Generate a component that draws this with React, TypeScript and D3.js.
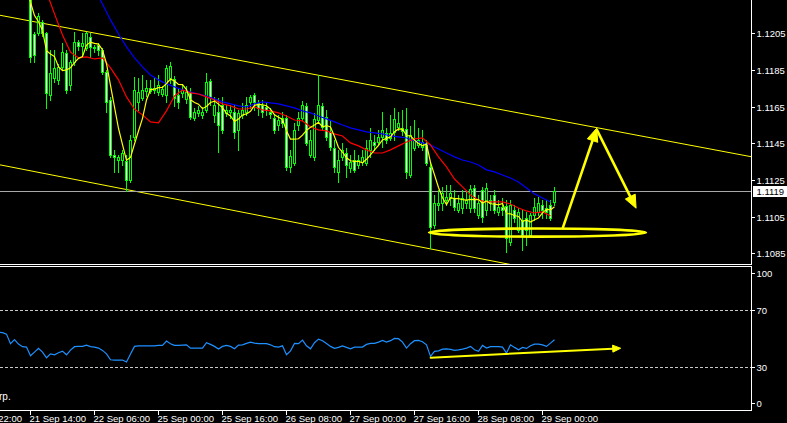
import React from "react";
import * as d3 from "d3";

const W = 787;
const H = 423;

// ---- OHLC data (H1 bars), first entry is bar -7 ----
const FIRST_BAR = -7;
const opens = [
  1.12370, 1.12340, 1.12320, 1.12330, 1.12300, 1.12310, 1.12290,
  1.12287, 1.12046, 1.12052, 1.12112, 1.12052, 1.11714, 1.11807, 1.11796, 1.11867, 1.11943,
  1.11769, 1.11894, 1.12003, 1.11981, 1.11970, 1.12030, 1.11976, 1.11986, 1.11959, 1.11839,
  1.11686, 1.11387, 1.11359, 1.11359, 1.11354, 1.11250, 1.11485, 1.11676, 1.11698, 1.11736,
  1.11736, 1.11741, 1.11730, 1.11719, 1.11714, 1.11807, 1.11801, 1.11714, 1.11725, 1.11692,
  1.11730, 1.11588, 1.11616, 1.11605, 1.11632, 1.11790, 1.11605, 1.11621, 1.11659, 1.11616,
  1.11621, 1.11621, 1.11523, 1.11605, 1.11621, 1.11676, 1.11714, 1.11670, 1.11659, 1.11648,
  1.11621, 1.11588, 1.11550, 1.11588, 1.11588, 1.11321, 1.11343, 1.11550, 1.11588, 1.11654,
  1.11387, 1.11376, 1.11577, 1.11654, 1.11594, 1.11512, 1.11425, 1.11294, 1.11376, 1.11397,
  1.11316, 1.11359, 1.11332, 1.11348, 1.11343, 1.11414, 1.11457, 1.11457, 1.11485, 1.11507,
  1.11479, 1.11512, 1.11539, 1.11534, 1.11528, 1.11277, 1.11425, 1.11441, 1.11430, 1.11452,
  1.11321, 1.11005, 1.11114, 1.11125, 1.11141, 1.11152, 1.11152, 1.11087, 1.11097, 1.11125,
  1.11097, 1.11206, 1.11059, 1.11196, 1.11087, 1.11141, 1.11168, 1.11076, 1.11103, 1.11108,
  1.10912, 1.11087, 1.10977, 1.11032, 1.11043, 1.10950, 1.11059, 1.11076, 1.11114, 1.11097,
  1.11114, 1.11130,
];
const highs = [
  1.12410, 1.12380, 1.12360, 1.12350, 1.12340, 1.12330, 1.12320,
  1.12341, 1.12057, 1.12161, 1.12123, 1.12057, 1.11959, 1.11959, 1.11883, 1.11997, 1.11959,
  1.11905, 1.12057, 1.12014, 1.12052, 1.12057, 1.12052, 1.11986, 1.11997, 1.11970, 1.11850,
  1.11703, 1.11414, 1.11387, 1.11414, 1.11387, 1.11496, 1.11812, 1.11807, 1.11823, 1.11796,
  1.11796, 1.11807, 1.11823, 1.11763, 1.11878, 1.11894, 1.11817, 1.11752, 1.11774, 1.11763,
  1.11752, 1.11643, 1.11654, 1.11648, 1.11834, 1.11801, 1.11703, 1.11698, 1.11703, 1.11659,
  1.11659, 1.11659, 1.11632, 1.11670, 1.11703, 1.11714, 1.11725, 1.11686, 1.11686, 1.11676,
  1.11643, 1.11605, 1.11605, 1.11621, 1.11605, 1.11414, 1.11561, 1.11621, 1.11681, 1.11670,
  1.11523, 1.11616, 1.11823, 1.11670, 1.11632, 1.11577, 1.11468, 1.11414, 1.11452, 1.11425,
  1.11387, 1.11414, 1.11387, 1.11414, 1.11468, 1.11534, 1.11496, 1.11523, 1.11621, 1.11534,
  1.11605, 1.11643, 1.11621, 1.11632, 1.11643, 1.11545, 1.11577, 1.11534, 1.11523, 1.11468,
  1.11343, 1.11168, 1.11196, 1.11212, 1.11223, 1.11223, 1.11196, 1.11168, 1.11196, 1.11196,
  1.11223, 1.11223, 1.11168, 1.11212, 1.11234, 1.11168, 1.11196, 1.11141, 1.11152, 1.11141,
  1.11141, 1.11114, 1.11097, 1.11087, 1.11076, 1.11070, 1.11152, 1.11157, 1.11141, 1.11141,
  1.11141, 1.11212,
];
const lows = [
  1.12320, 1.12300, 1.12290, 1.12280, 1.12270, 1.12260, 1.12250,
  1.11894, 1.11894, 1.12041, 1.12035, 1.11643, 1.11686, 1.11785, 1.11774, 1.11850, 1.11725,
  1.11741, 1.11878, 1.11959, 1.11921, 1.11959, 1.11921, 1.11948, 1.11932, 1.11828, 1.11621,
  1.11376, 1.11294, 1.11294, 1.11332, 1.11190, 1.11239, 1.11468, 1.11632, 1.11686, 1.11708,
  1.11725, 1.11725, 1.11714, 1.11708, 1.11676, 1.11780, 1.11654, 1.11643, 1.11703, 1.11670,
  1.11583, 1.11577, 1.11599, 1.11588, 1.11621, 1.11659, 1.11567, 1.11403, 1.11507, 1.11599,
  1.11588, 1.11479, 1.11414, 1.11588, 1.11605, 1.11643, 1.11632, 1.11605, 1.11594, 1.11605,
  1.11588, 1.11507, 1.11523, 1.11539, 1.11305, 1.11294, 1.11332, 1.11523, 1.11577, 1.11441,
  1.11376, 1.11359, 1.11567, 1.11523, 1.11468, 1.11414, 1.11294, 1.11239, 1.11359, 1.11266,
  1.11294, 1.11294, 1.11316, 1.11332, 1.11332, 1.11376, 1.11414, 1.11441, 1.11430, 1.11452,
  1.11468, 1.11468, 1.11523, 1.11496, 1.11261, 1.11266, 1.11414, 1.11430, 1.11414, 1.11332,
  1.10879, 1.10988, 1.11087, 1.11087, 1.11114, 1.11114, 1.11087, 1.11076, 1.11070, 1.11097,
  1.11076, 1.11076, 1.11043, 1.11021, 1.11059, 1.11087, 1.11070, 1.11059, 1.11059, 1.10857,
  1.10896, 1.11021, 1.10966, 1.10868, 1.10896, 1.10939, 1.11032, 1.11059, 1.11043, 1.11043,
  1.11032, 1.11114,
];
const closes = [
  1.12340, 1.12320, 1.12330, 1.12300, 1.12310, 1.12290, 1.12280,
  1.11921, 1.11932, 1.12144, 1.12052, 1.11725, 1.11834, 1.11861, 1.11867, 1.11948, 1.11741,
  1.11894, 1.12003, 1.11981, 1.11997, 1.12052, 1.11976, 1.11970, 1.11959, 1.11839, 1.11676,
  1.11387, 1.11376, 1.11376, 1.11397, 1.11250, 1.11468, 1.11741, 1.11730, 1.11741, 1.11752,
  1.11752, 1.11752, 1.11769, 1.11747, 1.11861, 1.11872, 1.11698, 1.11676, 1.11741, 1.11730,
  1.11594, 1.11621, 1.11632, 1.11621, 1.11785, 1.11703, 1.11659, 1.11550, 1.11523, 1.11632,
  1.11632, 1.11512, 1.11616, 1.11632, 1.11659, 1.11703, 1.11676, 1.11643, 1.11621, 1.11632,
  1.11610, 1.11523, 1.11577, 1.11561, 1.11321, 1.11381, 1.11523, 1.11588, 1.11659, 1.11452,
  1.11468, 1.11583, 1.11659, 1.11539, 1.11485, 1.11430, 1.11321, 1.11359, 1.11414, 1.11332,
  1.11348, 1.11305, 1.11359, 1.11376, 1.11425, 1.11468, 1.11441, 1.11485, 1.11523, 1.11468,
  1.11507, 1.11583, 1.11561, 1.11518, 1.11294, 1.11496, 1.11468, 1.11468, 1.11457, 1.11343,
  1.10994, 1.11125, 1.11125, 1.11179, 1.11157, 1.11179, 1.11103, 1.11125, 1.11152, 1.11141,
  1.11201, 1.11097, 1.11125, 1.11048, 1.11206, 1.11125, 1.11087, 1.11103, 1.11087, 1.10934,
  1.11114, 1.11043, 1.11076, 1.10950, 1.10977, 1.11059, 1.11103, 1.11125, 1.11087, 1.11076,
  1.11043, 1.11190,
];

// ---- moving averages (one value every 2 bars) ----
const RED_FIRST_BAR = 4;
const redMA = [
  1.12276, 1.12156, 1.12041, 1.11948, 1.11916, 1.11921, 1.11910, 1.11916, 1.11861, 1.11796,
  1.11703, 1.11637, 1.11605, 1.11567, 1.11561, 1.11627, 1.11708, 1.11741, 1.11725, 1.11719,
  1.11703, 1.11686, 1.11665, 1.11654, 1.11637, 1.11637, 1.11648, 1.11632, 1.11627, 1.11616,
  1.11599, 1.11577, 1.11572, 1.11539, 1.11523, 1.11518, 1.11501, 1.11490, 1.11452, 1.11436,
  1.11414, 1.11397, 1.11397, 1.11414, 1.11436, 1.11457, 1.11474, 1.11479, 1.11441, 1.11376,
  1.11321, 1.11255, 1.11212, 1.11168, 1.11141, 1.11130, 1.11130, 1.11130, 1.11119, 1.11097,
  1.11081, 1.11070, 1.11076, 1.11054,
];
const BLUE_FIRST_BAR = 16;
const blueMA = [
  1.12287, 1.12210, 1.12123, 1.12046, 1.11976, 1.11916, 1.11867, 1.11823, 1.11796, 1.11774,
  1.11758, 1.11741, 1.11730, 1.11719, 1.11708, 1.11692, 1.11676, 1.11665, 1.11654, 1.11648,
  1.11665, 1.11676, 1.11670, 1.11665, 1.11654, 1.11643, 1.11627, 1.11616, 1.11599, 1.11583,
  1.11567, 1.11550, 1.11534, 1.11523, 1.11512, 1.11507, 1.11501, 1.11490, 1.11485, 1.11479,
  1.11463, 1.11452, 1.11441, 1.11419, 1.11397, 1.11376, 1.11359, 1.11348, 1.11332, 1.11305,
  1.11294, 1.11277, 1.11261, 1.11239, 1.11206, 1.11174, 1.11152, 1.11130,
];
const FAST_PERIOD = 5;

// ---- oscillator in the sub-window, first entry is bar -8 ----
const IND_FIRST_BAR = -8;
const indicator = [
  54.5, 54.1, 53.1, 46.4, 49.2, 46.1, 44.3, 44.0,
  37.9, 40.5, 43.1, 40.5, 36.5, 39.3, 38.6, 40.0, 41.2, 38.6,
  41.9, 44.3, 44.5, 44.5, 45.4, 44.3, 44.0, 43.3, 41.7, 39.3,
  35.1, 34.9, 34.9, 34.9, 33.5, 39.1, 44.5, 44.9, 44.9, 44.9,
  44.9, 44.9, 45.2, 45.2, 48.2, 46.4, 45.2, 45.2, 45.4, 45.6,
  43.3, 43.3, 43.3, 43.3, 47.1, 45.9, 44.5, 42.6, 44.5, 45.2,
  44.5, 42.8, 45.4, 45.6, 46.6, 47.5, 46.8, 46.4, 46.4, 46.4,
  45.6, 44.3, 44.0, 44.9, 38.6, 41.4, 46.6, 46.4, 48.9, 44.9,
  42.8, 47.1, 49.6, 48.5, 46.6, 44.5, 43.1, 43.8, 44.9, 43.8,
  42.8, 44.0, 44.0, 44.0, 45.9, 46.6, 46.6, 47.5, 48.7, 47.5,
  48.5, 50.1, 49.9, 47.5, 43.3, 46.4, 48.5, 48.7, 47.8, 45.6,
  37.5, 41.0, 41.4, 42.6, 42.8, 42.4, 41.7, 42.1, 42.6, 43.3,
  44.5, 42.1, 41.0, 45.2, 43.3, 44.3, 44.3, 44.3, 44.0, 39.8,
  45.6, 43.8, 42.1, 43.8, 43.1, 44.9, 46.1, 46.1, 45.6, 44.5,
  46.8, 49.2,
];
const indLevels = [70, 30];
const indAxisValues = [100, 70, 30, 0];

// ---- axes ----
const priceTicks = [1.1205, 1.1185, 1.1165, 1.1145, 1.1125, 1.1105, 1.1085];
const bidPrice = 1.1119;
const timeTickBars = [-16, 0, 16, 32, 48, 64, 80, 96, 112, 128];
const timeTickLabels = [
  "20 Sep 22:00", "21 Sep 14:00", "22 Sep 06:00", "25 Sep 00:00", "25 Sep 16:00",
  "26 Sep 08:00", "27 Sep 00:00", "27 Sep 16:00", "28 Sep 08:00", "29 Sep 00:00",
];

// ---- drawn objects (bar index, price) ----
const upperTrend = [[0, 1.12117], [120, 1.11624]];
const lowerTrend = [[0, 1.11300], [100, 1.10874]];
const ellipseObj = { bar: 126.75, price: 1.10963, rBars: 27.1, rPrice: 0.00022 };
const arrowUp = [[133.1, 1.1099], [141.55, 1.11532]];
const arrowDown = [[141.6, 1.11523], [151.4, 1.11096]];
const indArrow = [[100.05, 36.6], [147.55, 43.2]];

const FONT = "'Liberation Sans', Arial, sans-serif";

// layout
const PLOT_R = 751;
const MAIN_B = 264;
const SUB_T = 266;
const SUB_B = 410;

const x = d3.scaleLinear().domain([0, 1]).range([30.5, 34.5]);
const y = d3.scaleLinear().domain([1.1085, 1.1205]).range([253.3, 33.3]);
const yi = d3.scaleLinear().domain([0, 100]).range([409.8, 267.3]);

function arrowHead(x1: number, y1: number, x2: number, y2: number, len: number, hw: number) {
  const dx = x2 - x1, dy = y2 - y1;
  const d = Math.hypot(dx, dy);
  const ux = dx / d, uy = dy / d;
  const bx = x2 - ux * len, by = y2 - uy * len;
  const nx = -uy, ny = ux;
  return {
    base: [bx, by],
    pts: `${x2},${y2} ${bx + nx * hw},${by + ny * hw} ${bx - nx * hw},${by - ny * hw}`,
  };
}

function Arrow({ p, ys, w, len, hw }: any) {
  const x1 = x(p[0][0]), y1 = ys(p[0][1]), x2 = x(p[1][0]), y2 = ys(p[1][1]);
  const h = arrowHead(x1, y1, x2, y2, len, hw);
  return (
    <g>
      <line x1={x1} y1={y1} x2={h.base[0]} y2={h.base[1]} stroke="#FFFF00" strokeWidth={w} strokeLinecap="round" />
      <polygon points={h.pts} fill="#FFFF00" stroke="#FFFF00" strokeWidth={1} strokeLinejoin="round" />
    </g>
  );
}

function trendPath(t: number[][]) {
  const slope = (t[1][1] - t[0][1]) / (t[1][0] - t[0][0]);
  const b0 = x.invert(0), b1 = x.invert(PLOT_R);
  const p0 = t[0][1] + slope * (b0 - t[0][0]);
  const p1 = t[0][1] + slope * (b1 - t[0][0]);
  return `M0,${y(p0)} L${PLOT_R},${y(p1)}`;
}

export default function App() {
  const bars = opens.map((o, i) => ({
    k: FIRST_BAR + i, o, h: highs[i], l: lows[i], c: closes[i],
  }));

  const fast: [number, number][] = [];
  for (let i = FAST_PERIOD - 1; i < closes.length; i++) {
    const m = d3.mean(closes.slice(i - FAST_PERIOD + 1, i + 1)) as number;
    fast.push([x(FIRST_BAR + i), y(m)]);
  }
  const line = d3.line();
  const redPts: [number, number][] = redMA.map((v, i) => [x(RED_FIRST_BAR + 2 * i), y(v)]);
  const bluePts: [number, number][] = blueMA.map((v, i) => [x(BLUE_FIRST_BAR + 2 * i), y(v)]);
  const indPts: [number, number][] = indicator.map((v, i) => [x(IND_FIRST_BAR + i), yi(v)]);

  const ex = x(ellipseObj.bar);
  const ey = y(ellipseObj.price);
  const erx = x(ellipseObj.bar + ellipseObj.rBars) - ex;
  const ery = y(ellipseObj.price - ellipseObj.rPrice) - ey;

  const bidY = Math.round(y(bidPrice)) + 0.5;

  return (
    <svg width={W} height={H} style={{ position: "absolute", left: 0, top: 0, display: "block", background: "#000" }}
      fontFamily={FONT}>
      <defs>
        <clipPath id="mainClip"><rect x={0} y={0} width={PLOT_R} height={MAIN_B} /></clipPath>
        <clipPath id="subClip"><rect x={0} y={SUB_T + 1} width={PLOT_R} height={SUB_B - SUB_T - 1} /></clipPath>
      </defs>
      <rect x={0} y={0} width={W} height={H} fill="#000" />

      {/* main pane */}
      <g clipPath="url(#mainClip)">
        <path d={trendPath(upperTrend)} stroke="#FFFF00" strokeWidth={1} fill="none" />
        <path d={trendPath(lowerTrend)} stroke="#FFFF00" strokeWidth={1} fill="none" />
        <line x1={0} x2={PLOT_R} y1={bidY} y2={bidY} stroke="#A8A8A8" strokeWidth={1} />
        {bars.map((b) => {
          const cx = x(b.k);
          const yo = Math.round(y(b.o)), yc = Math.round(y(b.c));
          const top = Math.min(yo, yc), bot = Math.max(yo, yc);
          const bear = b.c < b.o;
          return (
            <g key={b.k}>
              <line x1={cx} x2={cx} y1={Math.round(y(b.h))} y2={Math.round(y(b.l)) + 1} stroke="#00FF00" strokeWidth={1} />
              {bot - top >= 1 ? (
                <rect x={cx - 1} y={top + 0.5} width={2} height={bot - top} fill={bear ? "#FFFFFF" : "#000000"} stroke="#00FF00" strokeWidth={1} />
              ) : (
                <line x1={cx - 1.5} x2={cx + 1.5} y1={top + 0.5} y2={top + 0.5} stroke="#00FF00" strokeWidth={1} />
              )}
            </g>
          );
        })}
        <path d={line(bluePts) as string} stroke="#0000FF" strokeWidth={1.2} fill="none" />
        <path d={line(redPts) as string} stroke="#FF0000" strokeWidth={1.2} fill="none" />
        <path d={line(fast) as string} stroke="#FFFF00" strokeWidth={1.2} fill="none" />

        <ellipse cx={ex} cy={ey} rx={erx} ry={ery} fill="none" stroke="#FFFF00" strokeWidth={2.6} />
        <Arrow p={arrowUp} ys={y} w={2.6} len={13} hw={5.5} />
        <Arrow p={arrowDown} ys={y} w={2.6} len={13} hw={5.5} />
      </g>

      {/* sub window */}
      <g clipPath="url(#subClip)">
        {indLevels.map((v) => (
          <line key={v} x1={0} x2={PLOT_R} y1={Math.round(yi(v)) + 0.5} y2={Math.round(yi(v)) + 0.5}
            stroke="#C8C8C8" strokeWidth={1} strokeDasharray="3,2" />
        ))}
        <path d={line(indPts) as string} stroke="#1E90FF" strokeWidth={1.2} fill="none" />
        <Arrow p={indArrow} ys={yi} w={2} len={8} hw={3.5} />
        <text x={-1} y={400} fill="#FFFFFF" fontSize={10}>rp.</text>
      </g>

      {/* frames */}
      <line x1={0} x2={PLOT_R + 1} y1={MAIN_B + 0.5} y2={MAIN_B + 0.5} stroke="#FFFFFF" />
      <line x1={0} x2={PLOT_R + 1} y1={SUB_T + 0.5} y2={SUB_T + 0.5} stroke="#FFFFFF" />
      <line x1={0} x2={PLOT_R + 1} y1={SUB_B + 0.5} y2={SUB_B + 0.5} stroke="#FFFFFF" />
      <line x1={PLOT_R + 0.5} x2={PLOT_R + 0.5} y1={0} y2={MAIN_B} stroke="#FFFFFF" />
      <line x1={PLOT_R + 0.5} x2={PLOT_R + 0.5} y1={SUB_T} y2={SUB_B + 1} stroke="#FFFFFF" />

      {/* price axis */}
      {priceTicks.map((p) => {
        const yy = Math.round(y(p)) + 0.5;
        return (
          <g key={p}>
            <line x1={PLOT_R} x2={PLOT_R + 4} y1={yy} y2={yy} stroke="#FFFFFF" />
            <text x={756.5} y={yy + 3.5} fill="#FFFFFF" fontSize={9.5}>{p.toFixed(4)}</text>
          </g>
        );
      })}
      <rect x={753} y={bidY - 5.5} width={34} height={11} fill="#FFFFFF" />
      <text x={756.5} y={bidY + 3.5} fill="#000000" fontSize={9.5}>{bidPrice.toFixed(4)}</text>

      {/* indicator axis */}
      {indAxisValues.map((v) => {
        const yy = Math.round(Math.max(273, Math.min(403, yi(v)))) + 0.5;
        return (
          <g key={v}>
            <line x1={PLOT_R} x2={PLOT_R + 4} y1={yy} y2={yy} stroke="#FFFFFF" />
            <text x={756.5} y={yy + 3.5} fill="#FFFFFF" fontSize={9.5}>{v}</text>
          </g>
        );
      })}

      {/* time axis */}
      {timeTickBars.map((b, i) => {
        const xx = Math.round(x(b)) - 0.5;
        return (
          <g key={b}>
            <line x1={xx} x2={xx} y1={SUB_B} y2={SUB_B + 5} stroke="#FFFFFF" />
            <text x={xx - 1} y={422} fill="#FFFFFF" fontSize={9.5}>{timeTickLabels[i]}</text>
          </g>
        );
      })}
    </svg>
  );
}
